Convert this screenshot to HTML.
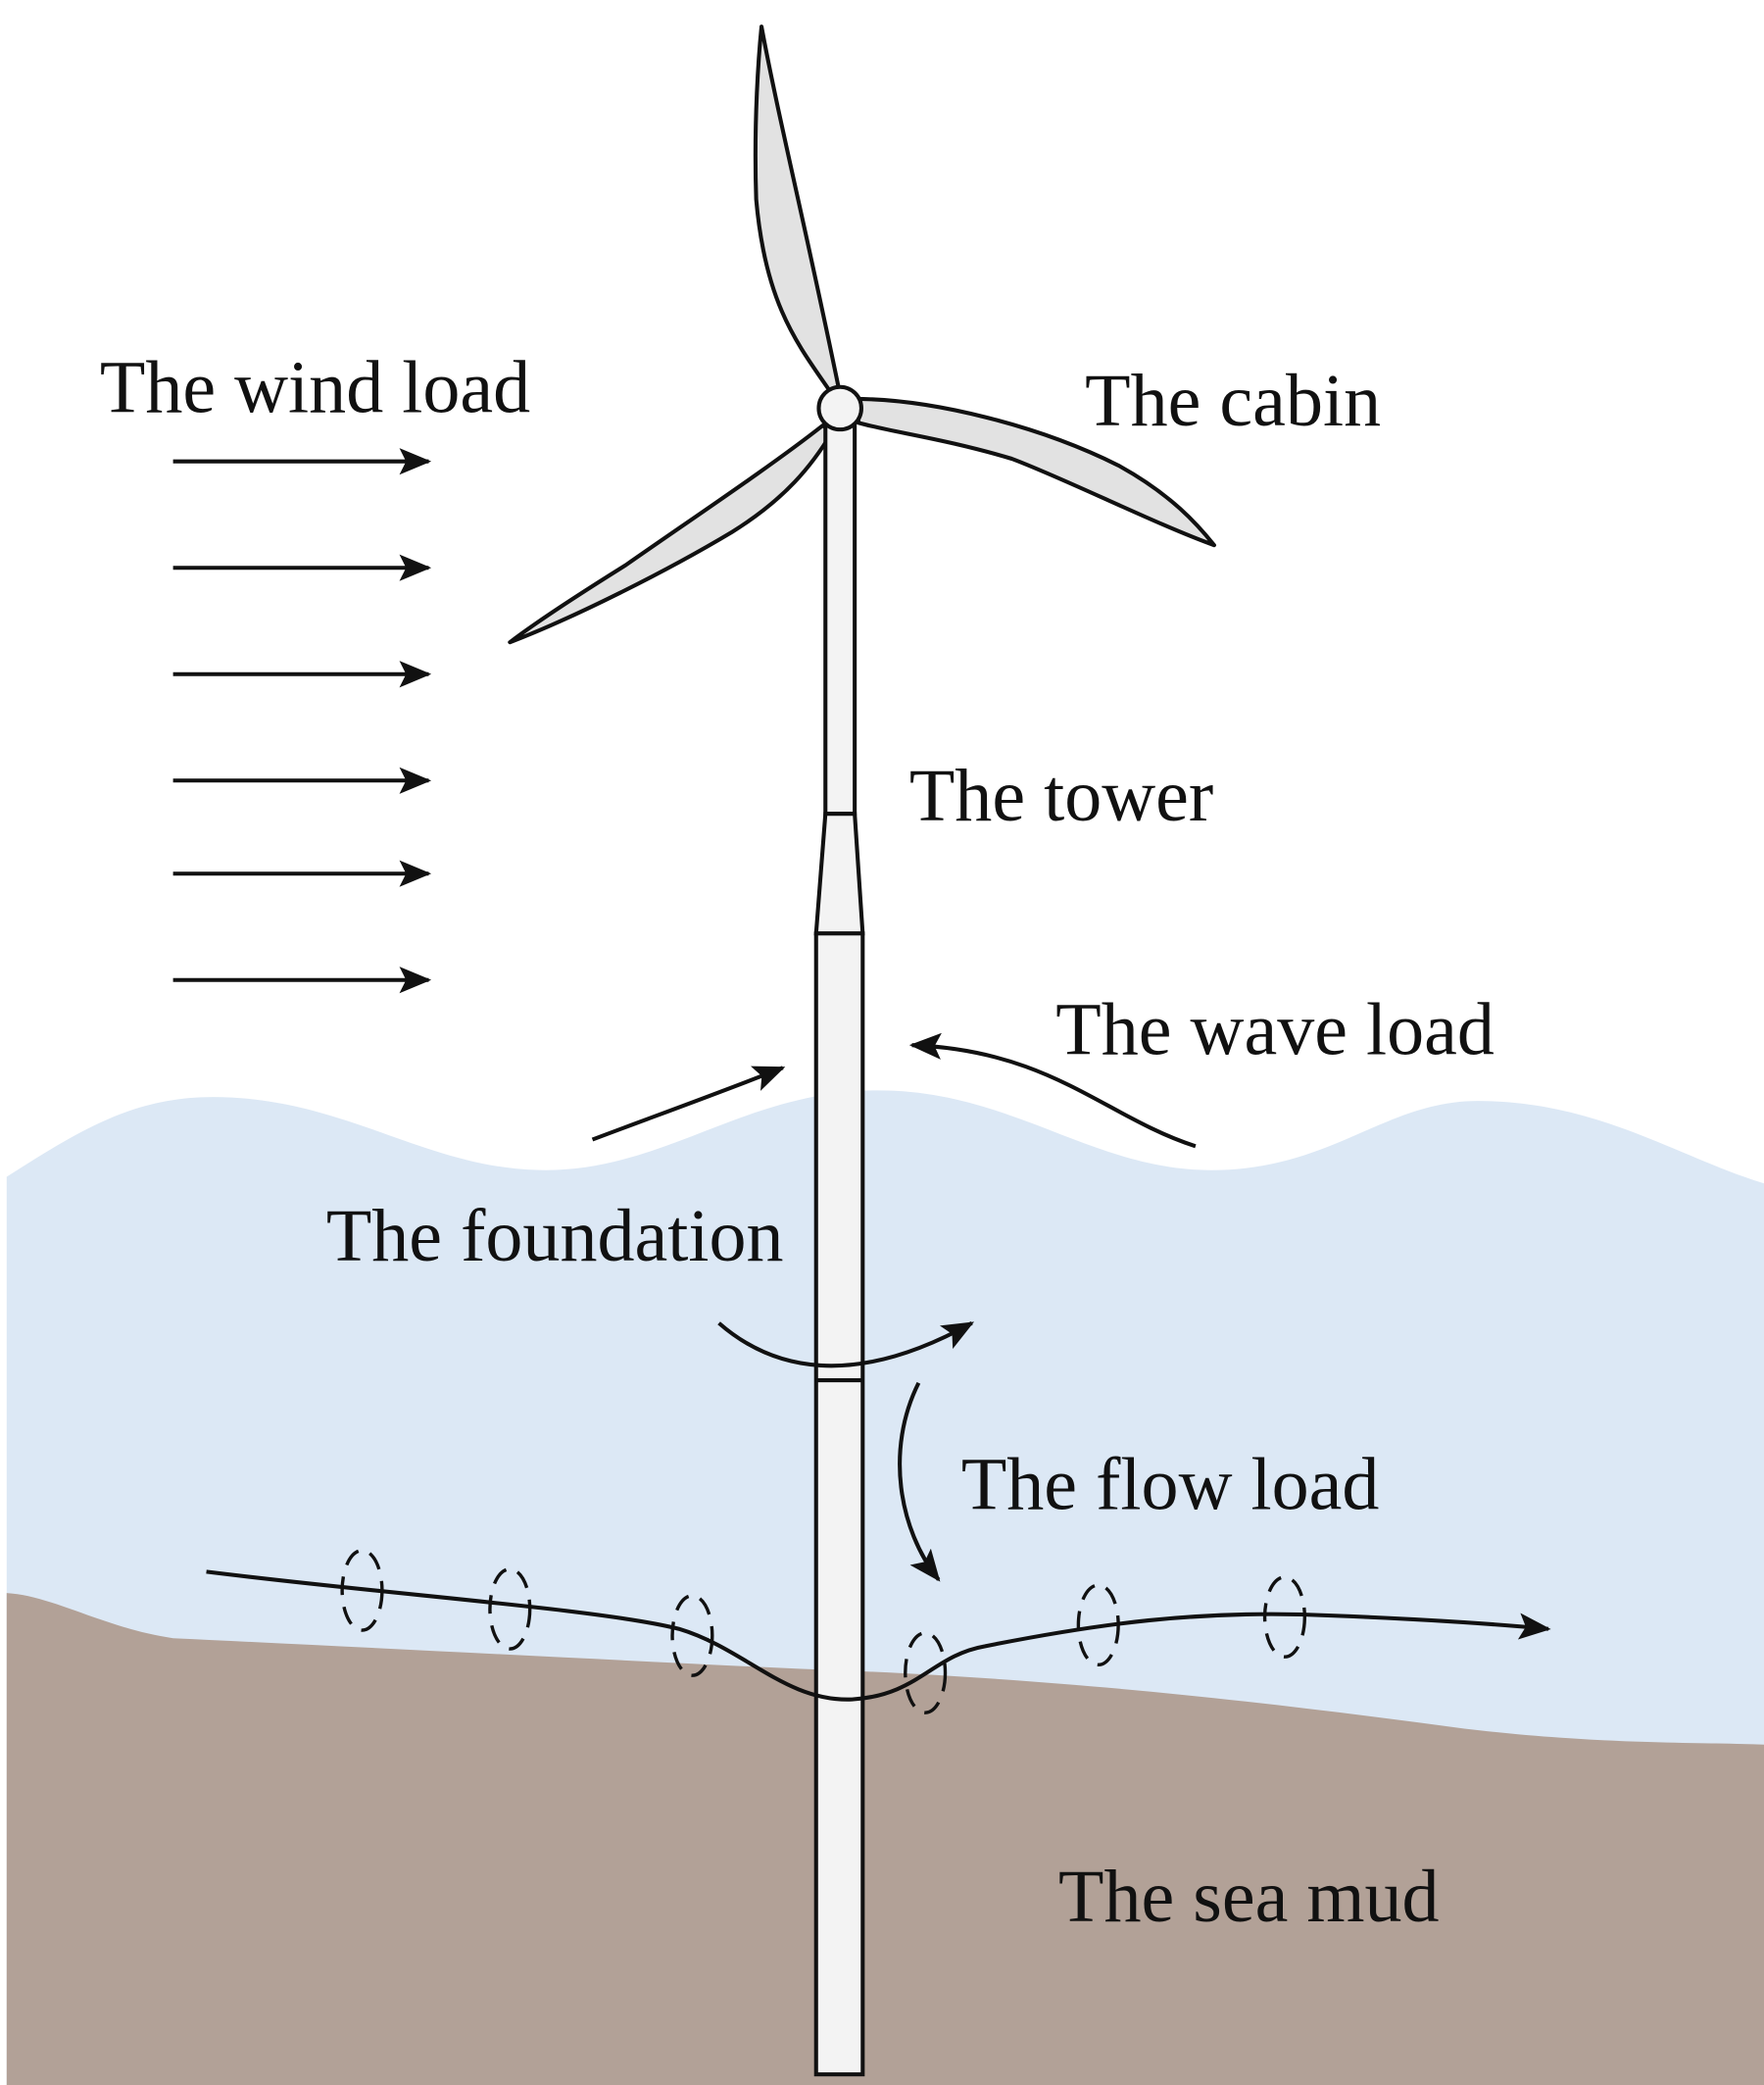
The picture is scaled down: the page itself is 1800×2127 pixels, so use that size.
<!DOCTYPE html>
<html><head><meta charset="utf-8"><style>
html,body{margin:0;padding:0;background:#fff;}
svg{display:block;}
text{font-family:"Liberation Serif",serif;font-size:56px;fill:#111;}
</style></head><body>
<svg width="1800" height="2127" viewBox="0 0 1325 1568" preserveAspectRatio="none" xmlns="http://www.w3.org/2000/svg">
<defs>
<marker id="ah2" markerWidth="24" markerHeight="20" refX="22" refY="10" orient="auto" markerUnits="userSpaceOnUse">
<path d="M0,0 L24,10 L0,20 L5,10 Z" fill="#111"/></marker>
</defs>
<rect width="1325" height="1568" fill="#fff"/>
<path d="M5,885 C60,850 100,825 160,825 C260,825 320,880 410,880 C500,880 560,820 660,820 C760,820 820,880 910,880 C1000,880 1040,828 1110,828 C1200,828 1260,870 1325,890 L1325,1568 L5,1568 Z" fill="#dce8f5"/>
<path d="M5,1198 C40,1200 80,1225 130,1232 C300,1240 450,1248 600,1255 C800,1262 950,1280 1100,1300 C1200,1312 1270,1310 1325,1312 L1325,1568 L5,1568 Z" fill="#b2a197"/>
<g stroke="#111" stroke-width="3" fill="#e2e2e2" stroke-linejoin="round">
<path d="M624,295 C600,260 575,230 568,150 C566,90 570,40 572,20 C585,90 605,170 630,292 Z"/>
<path d="M642,300 C700,300 780,320 840,350 C880,372 900,395 912,410 C870,395 800,360 760,345 C710,330 670,325 645,318 Z"/>
<path d="M618,320 C580,350 520,390 470,425 C430,450 400,470 383,483 C430,465 500,430 550,400 C590,375 610,350 625,325 Z"/>
</g>
<g stroke="#111" stroke-width="3" fill="#f3f3f3">
<rect x="620" y="318" width="22" height="294"/>
<path d="M620,612 L642,612 L648,702 L613,702 Z"/>
<rect x="613" y="702" width="35" height="858"/>
<line x1="613" y1="1038" x2="648" y2="1038"/>
</g>
<circle cx="631" cy="307" r="16" fill="#f3f3f3" stroke="#111" stroke-width="3"/>
<g stroke="#111" stroke-width="3" marker-end="url(#ah2)">
<line x1="130" y1="347" x2="322" y2="347"/>
<line x1="130" y1="427" x2="322" y2="427"/>
<line x1="130" y1="507" x2="322" y2="507"/>
<line x1="130" y1="587" x2="322" y2="587"/>
<line x1="130" y1="657" x2="322" y2="657"/>
<line x1="130" y1="737" x2="322" y2="737"/>
</g>
<g stroke="#111" stroke-width="3" fill="none" marker-end="url(#ah2)">
<path d="M445,857 C490,840 540,822 588,803"/>
<path d="M898,862 C830,840 790,790 685,786"/>
<path d="M540,995 C580,1030 640,1045 730,995"/>
<path d="M690,1040 C665,1090 675,1150 705,1188"/>
<path d="M155,1182 C300,1200 450,1210 510,1225 C560,1240 590,1280 640,1278 C690,1275 700,1245 740,1238 C820,1222 900,1210 1000,1215 C1080,1218 1130,1222 1163,1225"/>
</g>
<g stroke="#111" stroke-width="2.5" fill="none" stroke-dasharray="14,9">
<ellipse cx="272" cy="1196" rx="15" ry="30"/>
<ellipse cx="383" cy="1210" rx="15" ry="30"/>
<ellipse cx="520" cy="1230" rx="15" ry="30"/>
<ellipse cx="695" cy="1258" rx="15" ry="30"/>
<ellipse cx="825" cy="1222" rx="15" ry="30"/>
<ellipse cx="965" cy="1216" rx="15" ry="30"/>
</g>
<text x="75" y="310">The wind load</text>
<text x="815" y="320">The cabin</text>
<text x="683" y="617">The tower</text>
<text x="793" y="793">The wave load</text>
<text x="245" y="948">The foundation</text>
<text x="722" y="1135">The flow load</text>
<text x="795" y="1445">The sea mud</text>
</svg>
</body></html>
